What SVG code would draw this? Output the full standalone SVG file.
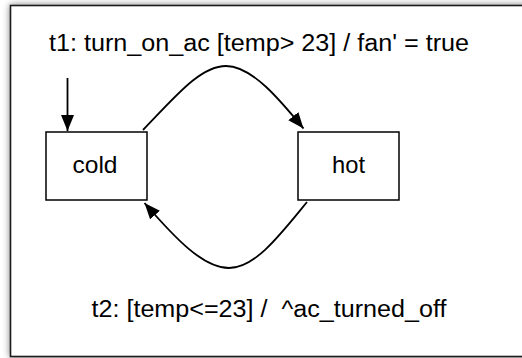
<svg xmlns="http://www.w3.org/2000/svg" width="522" height="358" viewBox="0 0 522 358">
<style>
  text { font-family: "Liberation Sans", Arial, Helvetica, sans-serif; font-size: 23px; fill: #000; white-space: pre; }
  .state { fill: #fff; stroke: #000; stroke-width: 1.5; }
  .conn { fill: none; stroke: #000; stroke-width: 1.8; }
</style>
<defs>
  <filter id="shadow" x="-5%" y="-5%" width="110%" height="110%">
    <feGaussianBlur in="SourceAlpha" stdDeviation="3.5"/>
    <feComponentTransfer><feFuncA type="linear" slope="0.5"/></feComponentTransfer>
    <feMerge><feMergeNode/><feMergeNode in="SourceGraphic"/></feMerge>
  </filter>
  <marker id="arrow" markerUnits="userSpaceOnUse" markerWidth="18" markerHeight="14" refX="16" refY="6.5" orient="auto">
    <path d="M0,0 L16,6.5 L0,13 Z" fill="#000"/>
  </marker>
</defs>
<rect width="522" height="358" fill="#fff"/>
<g id="frame">
  <rect x="10.5" y="5.5" width="530" height="351" fill="#fff" stroke="#1a1a1a" stroke-width="1.6" filter="url(#shadow)"/>
</g>
<g id="label-t1">
  <text x="49" y="51" textLength="420" lengthAdjust="spacingAndGlyphs">t1: turn_on_ac [temp&gt; 23] / fan' = true</text>
</g>
<g id="label-t2">
  <text x="91.5" y="316.5" textLength="355" lengthAdjust="spacingAndGlyphs" xml:space="preserve">t2: [temp&lt;=23] /  ^ac_turned_off</text>
</g>
<g id="connectors">
  <path class="conn" d="M67.5,78 L67.5,131" marker-end="url(#arrow)"/>
  <path class="conn" d="M143,130 C175,97 200,66 226,66 S280,100 303.5,128.5" marker-end="url(#arrow)"/>
  <path class="conn" d="M307,202 C280,235 255,268 229,268 S175,238 144.5,203" marker-end="url(#arrow)"/>
</g>
<g id="cold">
  <rect class="state" x="46" y="132" width="101" height="68"/>
  <text x="95" y="172.5" text-anchor="middle" style="font-size:24px" textLength="45" lengthAdjust="spacingAndGlyphs">cold</text>
</g>
<g id="hot">
  <rect class="state" x="298" y="132" width="101" height="68"/>
  <text x="348.5" y="172.5" text-anchor="middle" style="font-size:24px" textLength="33" lengthAdjust="spacingAndGlyphs">hot</text>
</g>
</svg>
